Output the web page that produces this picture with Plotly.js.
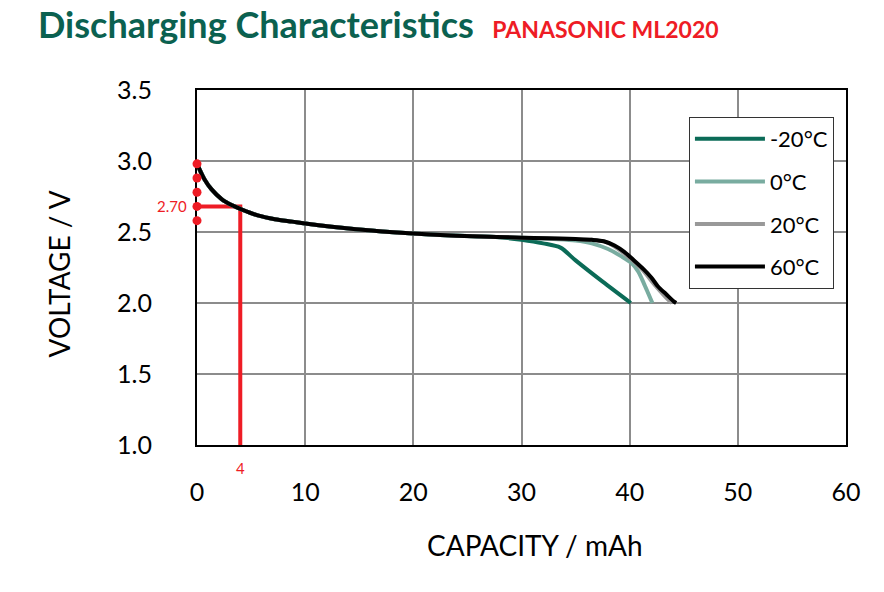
<!DOCTYPE html>
<html>
<head>
<meta charset="utf-8">
<script src="https://cdn.plot.ly/plotly-3.0.1.min.js"></script>
<style>
  html, body { margin: 0; padding: 0; background: #fff; }
  #plot { width: 884px; height: 592px; }
</style>
</head>
<body>
<div id="plot"></div>
<script>
// values
const capMinus20 = [0, 0.7, 1.35, 2.3, 3.2, 4.1, 5.7, 7.2, 8.8, 10, 14.7, 20, 25.5, 27.6, 30, 32, 33.6, 35, 37.5, 40.1];
const voltMinus20 = [2.98, 2.87, 2.80, 2.73, 2.69, 2.66, 2.615, 2.59, 2.573, 2.56, 2.52, 2.49, 2.47, 2.465, 2.445, 2.42, 2.39, 2.30, 2.15, 2.0];

const cap0 = [0, 0.7, 1.35, 2.3, 3.2, 4.1, 5.7, 7.2, 8.8, 10, 14.7, 20, 25.5, 30, 33, 35, 36.5, 38, 39.2, 40.2, 40.8, 41.3, 41.7, 42.1];
const volt0 = [2.98, 2.87, 2.80, 2.73, 2.69, 2.66, 2.615, 2.59, 2.573, 2.56, 2.52, 2.49, 2.47, 2.46, 2.45, 2.44, 2.42, 2.38, 2.33, 2.28, 2.22, 2.14, 2.07, 2.0];

const cap20 = [0, 0.7, 1.35, 2.3, 3.2, 4.1, 5.7, 7.2, 8.8, 10, 14.7, 20, 25.5, 30, 35, 36.5, 37.8, 39.3, 41.1, 42.4, 43.6, 43.9];
const volt20 = [2.98, 2.87, 2.80, 2.73, 2.69, 2.66, 2.615, 2.59, 2.573, 2.56, 2.52, 2.49, 2.47, 2.46, 2.45, 2.445, 2.43, 2.36, 2.24, 2.12, 2.02, 2.0];

const cap60 = [0, 0.7, 1.35, 2.3, 3.2, 4.1, 5.7, 7.2, 8.8, 10, 14.7, 20, 25.5, 30, 35, 36.5, 37.6, 38.6, 39.5, 40.4, 41.3, 42.0, 42.6, 43.4, 44.1, 44.3];
const volt60 = [2.98, 2.87, 2.80, 2.73, 2.69, 2.66, 2.615, 2.59, 2.573, 2.56, 2.52, 2.49, 2.47, 2.46, 2.45, 2.445, 2.435, 2.405, 2.36, 2.30, 2.237, 2.18, 2.118, 2.06, 2.01, 2.0];

// red marker annotation (as drawn on the sheet)
const markCap = [0, 4, 4];
const markVolt = [2.68, 2.68, 1.0];
const dotVolt = [2.98, 2.88, 2.78, 2.68, 2.58];
const markLabelV = '2.70';
const markLabelC = '4';

const FONT = 'Lato, "Open Sans", sans-serif';
const RED = '#ee1c25';

function curve(name, x, y, color, group) {
  return {
    x: x, y: y, name: name, type: 'scatter', mode: 'lines',
    line: {color: color, width: 4, shape: 'spline', smoothing: 0.8},
    legendgroup: group
  };
}

const data = [
  {
    x: markCap, y: markVolt, type: 'scatter', mode: 'lines',
    line: {color: RED, width: 4}, showlegend: false, hoverinfo: 'skip'
  },
  curve('-20°C', capMinus20, voltMinus20, '#0b6b57', 'a'),
  curve('0°C', cap0, volt0, '#79aca0', 'b'),
  curve('20°C', cap20, volt20, '#999999', 'c'),
  curve('60°C', cap60, volt60, '#000000', 'd'),
  {
    x: dotVolt.map(() => 0), y: dotVolt, type: 'scatter', mode: 'markers',
    marker: {color: RED, size: 9, line: {width: 0}}, showlegend: false, cliponaxis: false
  }
];

const layout = {
  width: 884, height: 592,
  margin: {l: 197, r: 38, t: 90, b: 147},
  paper_bgcolor: '#fff', plot_bgcolor: '#fff',
  font: {family: FONT, color: '#000'},
  title: {
    text: '<b>Discharging Characteristics</b>  <span style="color:' + RED + ';font-size:23px"><b>PANASONIC ML2020</b></span>',
    font: {family: FONT, size: 36, color: '#0b6150'},
    x: 38 / 884, xanchor: 'left', xref: 'container',
    y: 1 - 25 / 592, yanchor: 'middle'
  },
  xaxis: {
    range: [0, 60], dtick: 10, tick0: 0,
    showgrid: true, gridcolor: '#8c8c8c', gridwidth: 2,
    zeroline: false, showline: true, linecolor: '#000', linewidth: 2,
    mirror: true, ticks: '', ticklabelstandoff: 24,
    tickfont: {size: 25, family: FONT}
  },
  yaxis: {
    range: [1.0, 3.5], dtick: 0.5, tick0: 1.0, tickformat: '.1f',
    showgrid: true, gridcolor: '#8c8c8c', gridwidth: 2,
    zeroline: false, showline: true, linecolor: '#000', linewidth: 2,
    mirror: true, ticks: '', ticklabelstandoff: 38, layer: 'below traces',
    tickfont: {size: 25, family: FONT}
  },
  legend: {
    x: 0.758, y: 0.924, xanchor: 'left', yanchor: 'top',
    bgcolor: '#fff', bordercolor: '#333', borderwidth: 1,
    font: {size: 22, family: FONT},
    traceorder: 'grouped', tracegroupgap: 11, itemwidth: 70
  },
  annotations: [
    {
      x: 0, y: 2.68, xref: 'x', yref: 'y', text: markLabelV, showarrow: false,
      xanchor: 'right', xshift: -8, font: {size: 15, color: RED, family: FONT}
    },
    {
      x: 4, y: 1.0, xref: 'x', yref: 'y', text: markLabelC, showarrow: false,
      yanchor: 'top', yshift: -12, font: {size: 15, color: RED, family: FONT}
    },
    // axis titles, placed where the sheet has them
    {
      x: (535 - 197) / 649, y: 0, xref: 'paper', yref: 'paper', yanchor: 'middle',
      yshift: -100, text: 'CAPACITY / mAh', showarrow: false,
      font: {size: 28, family: FONT}
    },
    {
      x: 0, y: 0.5, xref: 'paper', yref: 'paper', xanchor: 'center', yanchor: 'middle',
      xshift: -139, yshift: -7, textangle: -90, text: 'VOLTAGE / V', showarrow: false,
      font: {size: 28, family: FONT}
    }
  ],
  showlegend: true
};

Plotly.newPlot('plot', data, layout, {staticPlot: true});
</script>
</body>
</html>
